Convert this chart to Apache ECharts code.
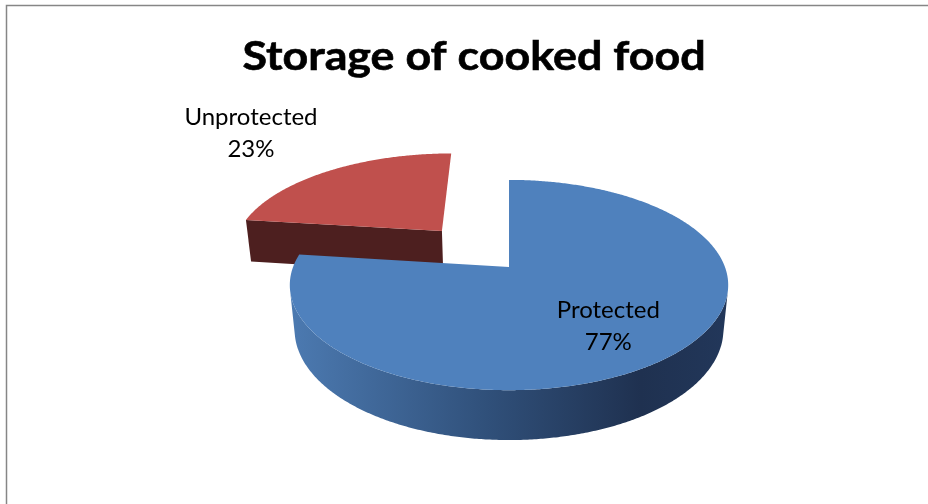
<!DOCTYPE html>
<html>
<head>
<meta charset="utf-8">
<script src="https://cdn.jsdelivr.net/npm/echarts@6/dist/echarts.min.js"></script>
<style>
  html, body { margin: 0; padding: 0; background: #ffffff; }
  #chart { width: 928px; height: 504px; }
</style>
</head>
<body>
<div id="chart"></div>
<script>
// Share of cooked-food storage practices
const titleText = 'Storage of cooked food';
const categories = ['Protected', 'Unprotected'];
const values = [77, 23];
const topColors = ['#4F81BD', '#C0504D'];

// ---- 3D pie geometry (unit-radius disc seen through a perspective camera) ----
const DEG = Math.PI / 180;
const view = { cx: 509, cy: 267, focal: 1110, dist: 5.14, tilt: 28.2, depth: 0.237 };
const explodeIndex = 1;      // the "Unprotected" slice is pulled out
const explodeDist = 0.5;
const sinT = Math.sin(view.tilt * DEG);
const cosT = Math.cos(view.tilt * DEG);
const camera = [0, view.dist * sinT, view.dist * cosT];

// world (X right, Y up, Z towards viewer) -> screen pixels
function project(X, Y, Z) {
  const v = Y * cosT - Z * sinT;
  const w = Y * sinT + Z * cosT;
  const k = view.focal / (view.dist - w);
  return [view.cx + X * k, view.cy - v * k];
}
// true when the surface with normal n at P is turned towards the camera
// (grazing faces that would only show as a hairline are skipped)
function facing(P, n, margin) {
  return (camera[0] - P[0]) * n[0] + (camera[1] - P[1]) * n[1] + (camera[2] - P[2]) * n[2] > margin;
}
// angle measured clockwise from 12 o'clock -> [X, Z]
function dir(theta) {
  return [Math.sin(theta * DEG), -Math.cos(theta * DEG)];
}

const sideStops = [
  [{ offset: 0, color: '#4C7AB1' }, { offset: 0.45, color: '#30507A' }, { offset: 0.8, color: '#1F3150' }, { offset: 1, color: '#22375A' }],
  [{ offset: 0, color: '#9C3F3C' }, { offset: 1, color: '#4D1F1F' }]
];
const cutColors = ['#22375A', '#4D1F1F'];

function renderItem(params, api) {
  const i = params.dataIndex;
  const total = values.reduce((a, b) => a + b, 0);
  let acc = 0;
  for (let j = 0; j < i; j++) acc += values[j];
  const val = api.value(0);
  const a0 = acc / total * 360;
  const a1 = (acc + val) / total * 360;
  const mid = (a0 + a1) / 2;
  const md = dir(mid);
  const ex = i === explodeIndex ? explodeDist : 0;
  const ox = md[0] * ex, oz = md[1] * ex;
  const h = view.depth;

  const zBase = 1000 + Math.round((oz + md[1] * 0.5) * 100) * 4;
  const children = [];

  const steps = Math.max(4, Math.ceil((a1 - a0) * 2));
  const thetas = [];
  for (let s = 0; s <= steps; s++) thetas.push(a0 + (a1 - a0) * s / steps);

  // outer curved wall, only where it faces the camera
  const vis = thetas.filter(t => {
    const d = dir(t);
    return facing([ox + d[0], -h / 2, oz + d[1]], [d[0], 0, d[1]], 0);
  });
  if (vis.length > 1) {
    const topPts = vis.map(t => { const d = dir(t); return project(ox + d[0], 0, oz + d[1]); });
    const botPts = vis.map(t => { const d = dir(t); return project(ox + d[0], -h, oz + d[1]); }).reverse();
    const pts = topPts.concat(botPts);
    let xmin = Infinity, xmax = -Infinity;
    pts.forEach(p => { xmin = Math.min(xmin, p[0]); xmax = Math.max(xmax, p[0]); });
    children.push({
      type: 'polygon',
      z2: zBase,
      shape: { points: pts },
      style: {
        fill: { type: 'linear', x: xmin, y: 0, x2: xmax, y2: 0, global: true, colorStops: sideStops[i] },
        stroke: null
      }
    });
  }

  // flat cut faces along the two radii
  if (a1 - a0 < 360) {
    [[a0, -1], [a1, 1]].forEach(([t, sign]) => {
      const d = dir(t);
      const tan = [Math.cos(t * DEG) * sign, 0, Math.sin(t * DEG) * sign];
      const P = [ox + d[0] / 2, -h / 2, oz + d[1] / 2];
      if (facing(P, tan, 0.5)) {
        children.push({
          type: 'polygon',
          z2: zBase + 1,
          shape: { points: [
            project(ox, 0, oz), project(ox + d[0], 0, oz + d[1]),
            project(ox + d[0], -h, oz + d[1]), project(ox, -h, oz)
          ] },
          style: { fill: cutColors[i], stroke: null }
        });
      }
    });
  }

  // top face
  const topFace = [project(ox, 0, oz)].concat(thetas.map(t => { const d = dir(t); return project(ox + d[0], 0, oz + d[1]); }));
  children.push({
    type: 'polygon',
    z2: zBase + 2,
    shape: { points: topFace },
    style: { fill: topColors[i], stroke: null }
  });

  // data label: inside for the main slice, beyond the rim for the pulled-out one
  const r = i === explodeIndex ? 2.36 - ex : 0.64;
  const lp = project(ox + md[0] * r, -0.03, oz + md[1] * r);
  children.push({
    type: 'text',
    z2: 5000,
    x: lp[0],
    y: lp[1],
    style: {
      text: categories[i] + '\n' + Math.round(val / total * 100) + '%',
      align: 'center',
      verticalAlign: 'middle',
      fontFamily: 'Lato',
      fontSize: 24,
      lineHeight: 32,
      fill: '#000000'
    }
  });

  return { type: 'group', children };
}

const chart = echarts.init(document.getElementById('chart'), null, { renderer: 'canvas' });
chart.setOption({
  animation: false,
  backgroundColor: '#ffffff',
  graphic: [{
    type: 'rect',
    silent: true,
    shape: { x: 6.5, y: 5.5, width: 1200, height: 1200 },
    style: { fill: null, stroke: '#868686', lineWidth: 1.5 }
  }, {
    type: 'text',
    silent: true,
    x: 474,
    y: 57,
    scaleX: 1.12,
    style: {
      text: titleText,
      align: 'center',
      verticalAlign: 'middle',
      fontFamily: 'Lato',
      fontWeight: 'bold',
      fontSize: 40,
      fill: '#000000',
      stroke: '#000000',
      lineWidth: 0.6
    }
  }],
  series: [{
    type: 'custom',
    coordinateSystem: 'none',
    renderItem: renderItem,
    data: values.map((v, i) => ({ name: categories[i], value: [v] }))
  }]
});
</script>
</body>
</html>
